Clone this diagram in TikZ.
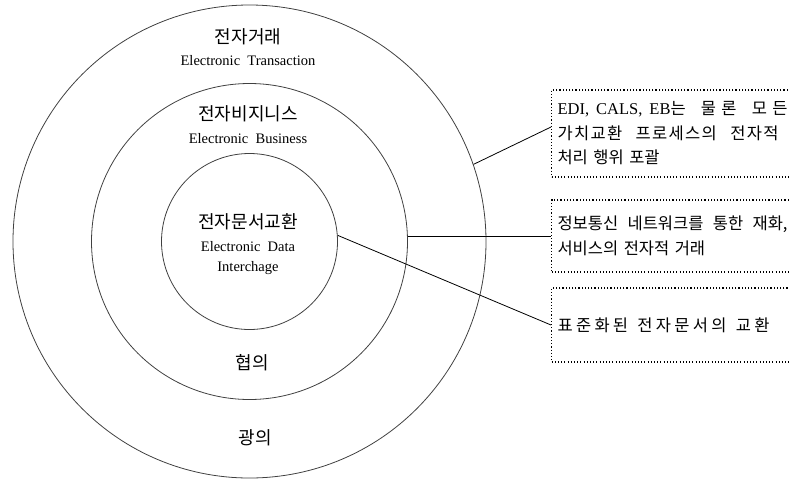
\documentclass[tikz,border=0pt]{standalone}
\usepackage{fontspec}
\setmainfont{Liberation Serif}
\newfontfamily\kr{Noto Sans CJK KR}
\newcommand{\krls}[2]{{\kr\addfontfeatures{LetterSpace=#1}#2}}
\newcommand{\jline}[2]{\makebox[#1][s]{\spaceskip=0.45em plus 3em\relax #2}}
\begin{document}
\begin{tikzpicture}[x=1pt,y=-1pt,
  ring/.style={circle,draw=black!75,line width=0.8pt,inner sep=0pt},
  ko/.style={font=\kr\fontsize{18}{20}\selectfont, inner sep=0pt},
  en/.style={font=\fontsize{14.5}{16}\selectfont, inner sep=0pt},
  note/.style={draw, line width=1.1pt, dash pattern=on 1.1pt off 2.1pt, anchor=west,
    minimum width=249pt, text width=237pt, inner xsep=6pt, inner ysep=0pt,
    align=left, font={\fontsize{16.5}{24.5}\selectfont\spaceskip=0.45em\relax}},
  link/.style={line width=0.8pt}]
\useasboundingbox (0,0) rectangle (790,480);
\clip (0,0) rectangle (790,480);
% circles
\node[ring, minimum size=473pt] (outer) at (249.5,241.5) {};
\node[ring, minimum size=316pt] (mid) at (249.5,241.5) {};
\node[ring, minimum size=176pt] (inner) at (249.5,241.5) {};
% labels
\node[ko] (t1k) at (248,37) {전자거래};
\node[en] (t1e) at (248,61) {Electronic\ \ Transaction};
\node[ko] (t2k) at (248,114) {전자비지니스};
\node[en] (t2e) at (248,139) {Electronic\ \ Business};
\node[ko] (t3k) at (248,222) {전자문서교환};
\node[en] (t3e) at (248,247) {Electronic\ \ Data};
\node[en] (t3f) at (248,268) {Interchage};
\node[ko] (nar) at (252,363) {협의};
\node[ko] (wid) at (255,438) {광의};
% notes
\node[note, minimum height=87pt] (box1) at (551,133.5)
  {\jline{230pt}{EDI,\hspace{7pt}CALS,\hspace{7pt}EB{\krls{32}{는 물론 모든}}}\\
   \jline{221pt}{\krls{8}{가치교환 프로세스의 전자적}}\\
   {\kr 처리 행위 포괄}};
\node[note, minimum height=72pt] (box2) at (551,236)
  {\jline{230pt}{\kr 정보통신 네트워크를 통한 재화,}\\{\kr 서비스의 전자적 거래}};
\node[note, minimum height=74pt] (box3) at (551,325)
  {\jline{212pt}{\krls{20}{표준화된 전자문서의 교환}}};
% connectors
\draw[link] (outer.19.3) -- ([yshift=6.5pt]box1.west);
\draw[link] (box2.west -| mid.east) -- (box2.west);
\draw[link] (inner.4.2) -- (box3.west);
\end{tikzpicture}
\end{document}
